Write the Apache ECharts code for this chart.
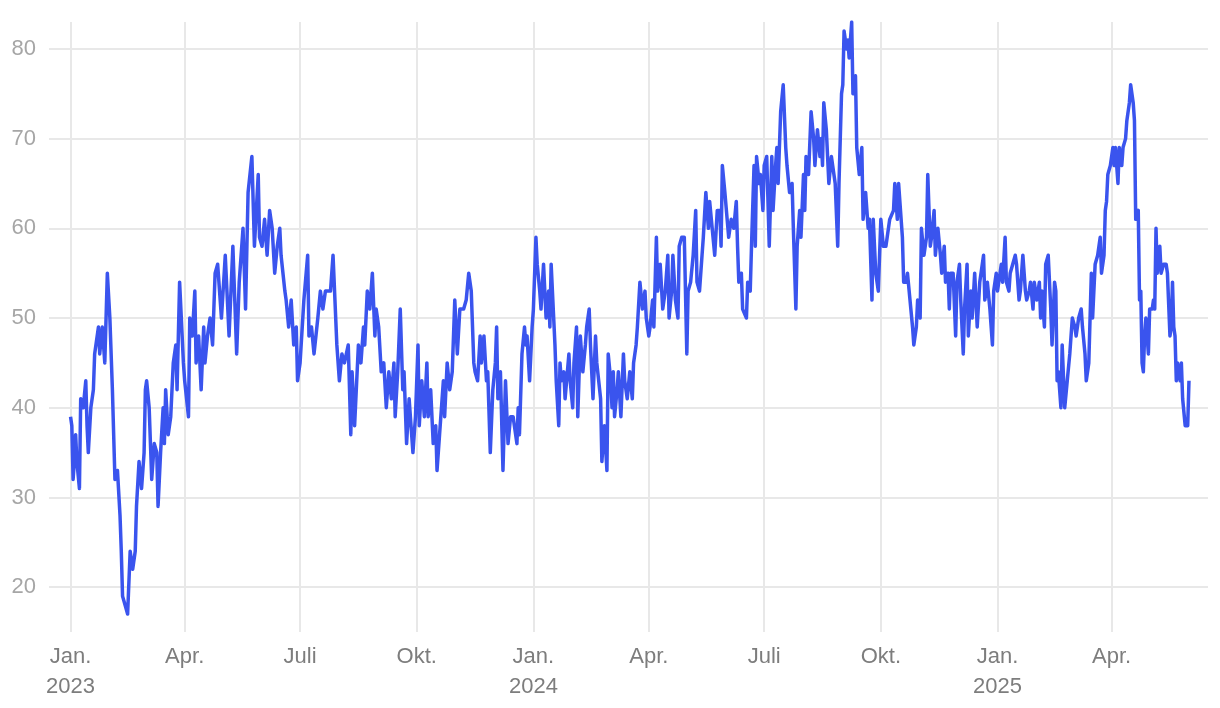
<!DOCTYPE html>
<html>
<head>
<meta charset="utf-8">
<script src="https://cdn.jsdelivr.net/npm/echarts@6/dist/echarts.min.js"></script>
<style>
  html, body { margin: 0; padding: 0; background: #ffffff; }
  #chart { width: 1220px; height: 708px; }
</style>
</head>
<body>
<div id="chart"></div>
<script>
// ---- data ----
const startDate = '2023-01-01';
const axisStart = '2022-12-15';
const axisEnd = '2025-06-16';
// [day offset from startDate, value]
const seriesPoints = [
[0,39],[1,38],[2,32],[3,34],[4,37],[5,34],[7,31],[8,41],[10,40],[12,43],[13,38],[14,35],[16,40],[18,42],[19,46],[22,49],[23,46],[25,49],[27,45],[29,55],[31,50],[33,42],[35,32],[37,33],[39,28],[40,24],[41,19],[43,18],[45,17],[47,24],[49,22],[51,24],[52,29],[54,34],[56,31],[58,35],[59,42],[60,43],[62,40],[64,32],[66,36],[68,35],[69,29],[71,35],[73,40],[74,36],[75,42],[77,37],[79,39],[81,45],[83,47],[84,42],[86,54],[89,45],[90,43],[93,39],[94,50],[96,48],[98,53],[99,45],[101,48],[103,42],[105,49],[106,45],[108,48],[110,50],[112,47],[113,51],[114,55],[116,56],[119,50],[122,57],[125,48],[128,58],[131,46],[133,54],
[136,60],[138,51],[140,64],[143,68],[145,58],[148,66],[149,59],[151,58],[153,61],[155,57],[157,62],[159,60],[161,55],[163,58],[165,60],[166,57],[169,53],[170,52],[172,49],[174,52],[176,47],[178,49],[179,43],[181,45],[184,52],[187,57],[188,48],[190,49],[192,46],[195,50],[197,53],[199,51],[201,53],[205,53],[207,57],[210,47],[212,43],[214,46],[216,45],[219,47],[221,37],[222,44],[224,38],[227,47],[229,45],
[231,49],[232,47],[234,53],[236,51],[238,55],[240,48],[241,51],[243,49],[245,44],[247,45],[249,40],[251,44],[253,41],[255,45],[256,39],[258,44],[260,51],[262,42],[263,44],[265,36],[267,41],[270,35],[272,39],[274,47],[275,38],[277,43],[279,39],[281,45],[282,39],[284,42],[286,36],[288,38],[289,33],[291,37],[293,41],[294,43],[295,39],[297,45],[299,42],[301,44],[303,52],[305,46],[307,51],[310,51],[312,52],[314,55],[316,53],[318,45],[319,44],[321,43],[323,48],[324,45],[326,48],[328,43],[329,44],[331,35],
[333,42],[335,45],[336,49],[337,41],[339,44],[341,33],[343,43],[344,43],[345,36],[347,39],[349,39],[350,38],[352,36],[353,40],[354,37],[356,46],[358,49],[359,47],[360,48],[362,43],[364,49],[365,51],[367,59],[368,56],[370,53],[371,51],[373,56],[375,50],[377,53],[378,49],[379,56],[381,50],[382,47],[383,43],[385,38],[386,45],[387,43],[389,44],[390,41],[393,46],[394,43],[396,40],[397,45],[399,49],[400,39],[402,48],[404,44],[406,47],[407,49],[409,51],[410,47],[412,41],[414,48],[415,45],[418,41],[419,34],[421,38],[423,33],[424,46],[426,43],
[427,40],[428,44],[429,39],[431,42],[432,44],[434,39],[436,46],[437,43],[439,41],[441,44],[443,41],[444,45],[446,47],[447,49],[449,54],[451,51],[453,53],[454,50],[456,48],[457,49],[459,52],[460,49],[462,59],[463,53],[465,56],[467,51],[469,53],[471,57],[472,50],[474,53],[475,57],[477,52],[479,50],[480,58],[482,59],[484,59],[486,46],[487,53],[489,54],[491,57],[493,62],[494,54],[496,53],[498,57],[499,59],[501,64],[503,60],[504,63],[506,60],[508,57],[510,62],[512,62],[513,58],[514,67],[516,64],[517,64],[519,59],[521,61],[523,60],[525,63],[526,58],
[527,54],[529,55],[530,51],[531,51],[533,50],[534,54],[536,53],[537,58],[539,67],[540,58],[541,68],[543,65],[544,66],[546,62],[547,67],[549,68],[551,58],[553,68],[554,62],[556,67],[557,69],[558,65],[560,73],[562,76],[564,69],[565,67],[567,64],[569,65],[570,60],[572,51],[573,58],[575,62],[576,59],[578,66],[579,62],[580,68],[582,66],[584,73],[586,70],[587,67],[589,71],[591,68],[592,70],[593,67],[594,74],[596,71],[597,68],[598,65],[600,68],[601,68],[603,65],[605,58],[606,65],[608,75],[609,76],[610,82],[612,80],[613,81],[614,79],[616,83],[617,75],[619,77],[620,69],
[622,66],[624,69],[625,61],[627,64],[629,60],[630,61],[632,52],[633,61],[635,55],[637,53],[639,61],[641,58],[643,58],[644,59],[646,61],[647,61],[649,62],[650,65],[652,61],[653,65],[655,61],[656,59],[657,54],[659,54],[660,55],[662,52],[664,49],[665,47],[667,49],[668,52],[670,50],[671,60],[673,57],[675,59],[676,66],[678,58],[679,59],[681,62],[682,57],[684,60],[686,57],[687,55],[689,58],[690,54],[692,55],[693,51],[694,55],[696,55],[698,48],[699,54],[701,56],[702,52],[704,46],[705,51],[707,56],[708,48],[710,53],[711,50],[713,55],[715,49],[717,54],[718,54],[720,57],[721,52],
[723,54],[725,51],[727,47],[728,53],[730,55],[731,53],[733,55],[734,56],[735,54],[737,59],[738,54],[740,53],[741,55],[743,56],[745,57],[746,56],[748,52],[749,53],[751,57],[753,53],[754,52],[756,53],[757,54],[759,51],[760,54],[762,52],[764,54],[765,50],[766,53],[768,49],[769,56],[771,57],[773,51],[774,47],[776,54],[777,53],[778,43],[779,44],[781,40],[782,47],[784,40],[786,43],[788,46],[790,50],[792,49],[793,48],[795,50],[797,51],[798,49],[800,46],[801,43],[803,45],
[805,55],[806,50],[808,56],[809,56],[810,57],[812,59],[813,55],[815,57],[816,62],[817,63],[818,66],[820,67],[822,69],[823,67],[824,69],[825,67],[826,65],[827,69],[829,67],[830,69],[832,70],[833,72],[835,74],[836,76],[837,76],[838,74],[839,72],[840,61],[842,62],[843,52],[844,53],[845,45],[846,44],[847,48],[848,50],[850,46],[851,51],[853,51],[854,52],[855,51],[856,60],[857,55],[859,58],[860,55],[862,56],[864,56],[865,55],[867,48],[868,49],[869,54],[870,49],[871,48],[872,43],[873,45],[875,43],[876,45],[877,41],[879,38],[880,38],[881,38],[882,43]
];
const xTickDates = ['2023-01-01','2023-04-01','2023-07-01','2023-10-01','2024-01-01','2024-04-01','2024-07-01','2024-10-01','2025-01-01','2025-04-01'];
const xTickLabels = ['Jan.\n2023','Apr.','Juli','Okt.','Jan.\n2024','Apr.','Juli','Okt.','Jan.\n2025','Apr.'];
const yTicks = [20, 30, 40, 50, 60, 70, 80];
const yMin = 15, yMax = 83;

// ---- build ----
function ts(s) { const p = s.split('-').map(Number); return Date.UTC(p[0], p[1] - 1, p[2]); }
const DAY = 86400000;
const t0 = ts(startDate);
const lineData = seriesPoints.map(p => [t0 + p[0] * DAY, p[1]]);
const xTickValues = xTickDates.map(ts);
const labelMap = {};
xTickValues.forEach((v, i) => { labelMap[v] = xTickLabels[i]; });

const FONT = '"Liberation Sans", Arial, Helvetica, sans-serif';
const chart = echarts.init(document.getElementById('chart'), null, { renderer: 'canvas' });
chart.setOption({
  animation: false,
  backgroundColor: '#ffffff',
  grid: { left: 49, right: 12, top: 22, bottom: 76, containLabel: false, outerBoundsMode: 'none' },
  xAxis: {
    type: 'value',
    min: ts(axisStart),
    max: ts(axisEnd),
    axisLine: { show: false },
    axisTick: { show: false, customValues: xTickValues },
    axisLabel: {
      customValues: xTickValues,
      formatter: v => labelMap[v] || '',
      color: '#7d7d7d',
      fontSize: 22,
      lineHeight: 30,
      fontFamily: FONT,
      margin: 10
    },
    splitLine: { show: true, lineStyle: { color: '#e8e8e8', width: 2 } }
  },
  yAxis: {
    type: 'value',
    min: yMin,
    max: yMax,
    axisLine: { show: false },
    axisTick: { show: false, customValues: yTicks },
    axisLabel: {
      customValues: yTicks,
      color: '#a6a6a6',
      fontSize: 22,
      fontFamily: FONT,
      margin: 13
    },
    splitLine: { show: true, lineStyle: { color: '#e8e8e8', width: 2 } }
  },
  series: [{
    type: 'line',
    data: lineData,
    showSymbol: false,
    symbol: 'none',
    smooth: false,
    lineStyle: { color: '#3a54ee', width: 3.5, join: 'round' },
    itemStyle: { color: '#3a54ee' }
  }]
});
</script>
</body>
</html>
